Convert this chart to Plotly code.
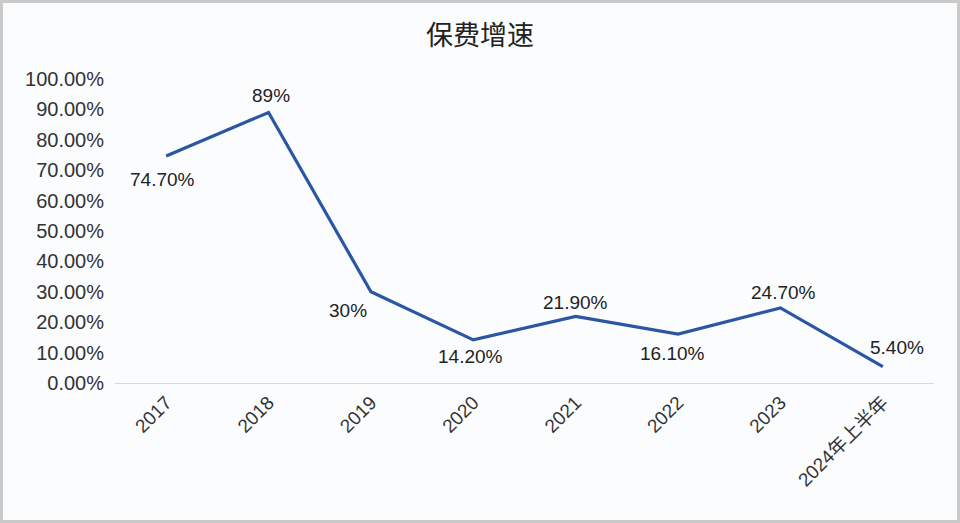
import plotly.graph_objects as go

categories = ["2017", "2018", "2019", "2020", "2021", "2022", "2023", "2024年上半年"]
growth = [74.70, 89.0, 30.0, 14.20, 21.90, 16.10, 24.70, 5.40]
labels = ["74.70%", "89%", "30%", "14.20%", "21.90%", "16.10%", "24.70%", "5.40%"]
# label offsets (pixels) relative to each point
label_dx = [-4, 2, -23, -3, 0, -6, 3, 14]
label_dy = [-24, 17, -19, -17, 14, -19, 15, 19]

y_ticks = [i * 10 for i in range(11)]
y_tick_text = [f"{v:.2f}%" for v in y_ticks]

FONT = "Liberation Sans, Arial, Noto Sans CJK SC, sans-serif"

fig = go.Figure()
fig.add_trace(go.Scatter(
    x=categories, y=growth, mode="lines",
    line=dict(color="#2b56a3", width=3.2),
    hoverinfo="skip", showlegend=False,
))

for i, (v, t, dx, dy) in enumerate(zip(growth, labels, label_dx, label_dy)):
    fig.add_annotation(x=i, y=v, text=t, showarrow=False, xshift=dx, yshift=dy,
                       font=dict(size=19, color="#222222", family=FONT))

W, H = 960, 523
ml, mr, mt, mb = 115, 26, 79, 140
pw, ph = W - ml - mr, H - mt - mb
# outer frame
fig.add_shape(type="rect", xref="paper", yref="paper",
              x0=(-ml + 1.5) / pw, x1=(pw + mr - 1.5) / pw,
              y0=(-mb + 1.5) / ph, y1=(ph + mt - 1.5) / ph,
              line=dict(color="#c9c9c9", width=3), layer="below")

fig.update_layout(
    width=W, height=H,
    margin=dict(l=ml, r=mr, t=mt, b=mb, autoexpand=False),
    paper_bgcolor="#fbfcfe", plot_bgcolor="#fbfcfe",
    title=dict(text="保费增速", x=0.5, xref="container", xanchor="center",
               y=1 - 36 / H, yanchor="middle",
               font=dict(size=27, color="#222222", family="Noto Sans CJK SC, sans-serif")),
    font=dict(family=FONT, color="#333333"),
    xaxis=dict(type="category", tickangle=-45, showgrid=False, showline=True,
               linecolor="#d6dae0", linewidth=1, ticks="", automargin=False,
               tickfont=dict(size=19, color="#333333", family=FONT),
               range=[-0.5, len(categories) - 0.5]),
    yaxis=dict(range=[0, 100], tickvals=y_ticks, ticktext=y_tick_text,
               showgrid=False, zeroline=False, showline=False, ticks="", automargin=False,
               ticklabelstandoff=10,
               tickfont=dict(size=20, color="#333333", family=FONT)),
)

fig.write_html("out.html", config={"displayModeBar": False},
               post_script="document.body.style.margin='0';document.body.style.overflow='hidden';")
